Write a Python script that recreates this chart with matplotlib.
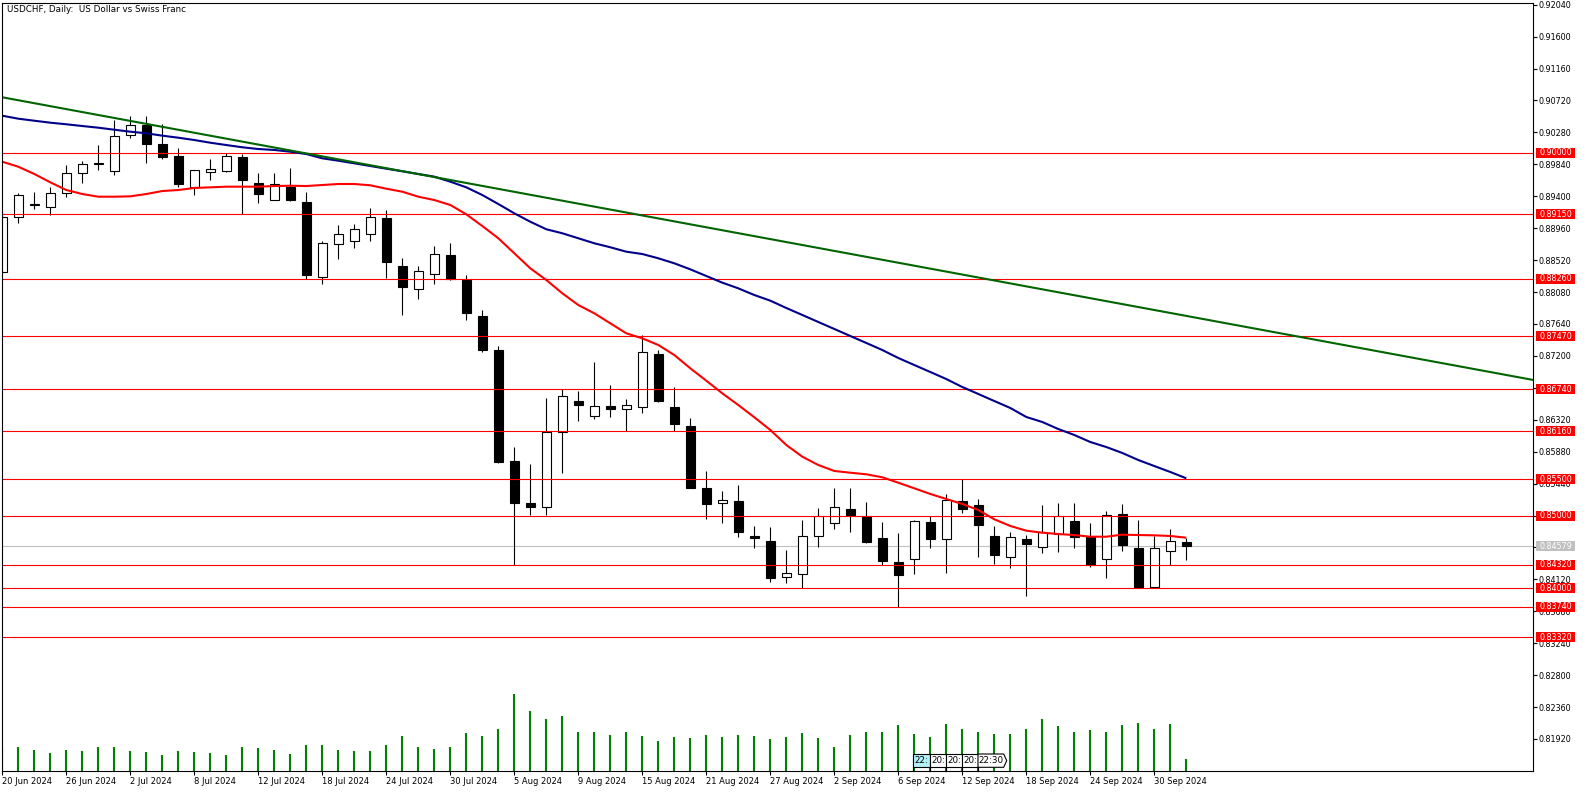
import numpy as np
import pandas as pd
import matplotlib
matplotlib.use("Agg")
from matplotlib import pyplot as plt
from matplotlib.patches import Rectangle, Polygon
from matplotlib.lines import Line2D
from matplotlib.ticker import FormatStrFormatter

W, H = 1586, 792
FS = 6
plt.rcParams['font.family'] = 'DejaVu Sans'

title = "USDCHF, Daily:  US Dollar vs Swiss Franc"
first_day = "2024-06-20"

opens = [
    0.88360, 0.89110, 0.89278, 0.89248, 0.89441, 0.89716, 0.89849, 0.89752, 0.90240, 0.90378,
    0.90120, 0.89955, 0.89532, 0.89738, 0.89744, 0.89945, 0.89583, 0.89353, 0.89532, 0.89321,
    0.88291, 0.88738, 0.88783, 0.88876, 0.89096, 0.88439, 0.88118, 0.88324, 0.88590, 0.88246,
    0.87750, 0.87281, 0.85751, 0.85168, 0.85121, 0.86147, 0.86574, 0.86367, 0.86509, 0.86464,
    0.86491, 0.87226, 0.86500, 0.86234, 0.85375, 0.85168, 0.85204, 0.84718, 0.84649, 0.84149,
    0.84190, 0.84714, 0.84893, 0.85090, 0.84993, 0.84690, 0.84359, 0.84397, 0.84911, 0.84672,
    0.85200, 0.85145, 0.84718, 0.84424, 0.84676, 0.84570, 0.84749, 0.84924, 0.84708, 0.84397,
    0.85017, 0.84552, 0.84019, 0.84507, 0.84631]
highs = [
    0.89183, 0.89441, 0.89455, 0.89523, 0.89831, 0.89886, 0.90106, 0.90451, 0.90506, 0.90506,
    0.90396, 0.90069, 0.89762, 0.89913, 0.89992, 0.89982, 0.89716, 0.89716, 0.89785, 0.89455,
    0.88788, 0.89004, 0.89018, 0.89234, 0.89211, 0.88545, 0.88439, 0.88714, 0.88752, 0.88315,
    0.87832, 0.87336, 0.85940, 0.85710, 0.86620, 0.86739, 0.86716, 0.87116, 0.86799, 0.86606,
    0.87484, 0.87281, 0.86771, 0.86340, 0.85614, 0.85342, 0.85420, 0.84855, 0.84846, 0.84525,
    0.84938, 0.85103, 0.85379, 0.85379, 0.85186, 0.84911, 0.84759, 0.84938, 0.84993, 0.85296,
    0.85510, 0.85228, 0.84855, 0.84769, 0.84731, 0.85145, 0.85173, 0.85173, 0.84897, 0.85062,
    0.85159, 0.84938, 0.84718, 0.84814, 0.84686]
lows = [
    0.88356, 0.89027, 0.89220, 0.89138, 0.89394, 0.89579, 0.89762, 0.89693, 0.90199, 0.89854,
    0.89918, 0.89532, 0.89421, 0.89624, 0.89740, 0.89155, 0.89311, 0.89348, 0.89335, 0.88260,
    0.88191, 0.88535, 0.88691, 0.88783, 0.88269, 0.87764, 0.87984, 0.88191, 0.88246, 0.87695,
    0.87258, 0.85728, 0.84318, 0.85007, 0.85007, 0.85590, 0.86307, 0.86334, 0.86362, 0.86161,
    0.86417, 0.86569, 0.86161, 0.85378, 0.84948, 0.84893, 0.84700, 0.84548, 0.84088, 0.84074,
    0.84005, 0.84570, 0.84818, 0.84777, 0.84625, 0.84318, 0.83735, 0.84194, 0.84556, 0.84212,
    0.85039, 0.84432, 0.84336, 0.84281, 0.83895, 0.84488, 0.84501, 0.84556, 0.84295, 0.84143,
    0.84515, 0.84005, 0.84005, 0.84318, 0.84387]
closes = [
    0.89118, 0.89413, 0.89290, 0.89441, 0.89716, 0.89840, 0.89858, 0.90230, 0.90378, 0.90116,
    0.89945, 0.89565, 0.89758, 0.89772, 0.89955, 0.89624, 0.89435, 0.89565, 0.89348, 0.88315,
    0.88752, 0.88876, 0.88945, 0.89118, 0.88498, 0.88153, 0.88366, 0.88600, 0.88260, 0.87787,
    0.87281, 0.85742, 0.85168, 0.85121, 0.86155, 0.86647, 0.86527, 0.86509, 0.86472, 0.86519,
    0.87254, 0.86582, 0.86265, 0.85383, 0.85163, 0.85214, 0.84769, 0.84694, 0.84143, 0.84204,
    0.84714, 0.84989, 0.85113, 0.85011, 0.84639, 0.84377, 0.84184, 0.84924, 0.84680, 0.85214,
    0.85094, 0.84873, 0.84460, 0.84700, 0.84612, 0.84769, 0.84989, 0.84708, 0.84314, 0.85011,
    0.84598, 0.84019, 0.84548, 0.84645, 0.84579]
volumes = [
    66, 72, 63, 54, 63, 60, 72, 72, 60, 57,
    48, 60, 57, 54, 48, 72, 69, 63, 51, 78,
    78, 63, 60, 60, 78, 105, 72, 66, 72, 114,
    105, 126, 231, 180, 156, 165, 117, 117, 108, 117,
    105, 90, 102, 99, 108, 102, 108, 105, 96, 102,
    114, 99, 72, 108, 117, 117, 138, 111, 102, 141,
    126, 117, 111, 111, 126, 156, 135, 117, 123, 117,
    138, 144, 126, 141, 36]
ma_fast = [
    0.89876, 0.89807, 0.89707, 0.89592, 0.89486, 0.89431, 0.89394, 0.89394, 0.89399, 0.89431,
    0.89472, 0.89486, 0.89514, 0.89523, 0.89532, 0.89532, 0.89532, 0.89541, 0.89545, 0.89541,
    0.89555, 0.89569, 0.89569, 0.89551, 0.89504, 0.89463, 0.89394, 0.89348, 0.89280, 0.89151,
    0.88990, 0.88821, 0.88614, 0.88407, 0.88246, 0.88063, 0.87901, 0.87787, 0.87649, 0.87511,
    0.87442, 0.87350, 0.87212, 0.87029, 0.86858, 0.86684, 0.86523, 0.86354, 0.86179, 0.85972,
    0.85811, 0.85696, 0.85614, 0.85590, 0.85568, 0.85527, 0.85452, 0.85375, 0.85297, 0.85228,
    0.85159, 0.85076, 0.84948, 0.84856, 0.84791, 0.84763, 0.84745, 0.84731, 0.84708, 0.84708,
    0.84736, 0.84731, 0.84727, 0.84718, 0.84694]
ma_slow = [
    0.90510, 0.90469, 0.90441, 0.90414, 0.90392, 0.90368, 0.90345, 0.90317, 0.90290, 0.90268,
    0.90235, 0.90207, 0.90175, 0.90138, 0.90106, 0.90075, 0.90051, 0.90038, 0.90014, 0.89982,
    0.89923, 0.89890, 0.89854, 0.89817, 0.89780, 0.89744, 0.89707, 0.89670, 0.89601, 0.89523,
    0.89417, 0.89293, 0.89165, 0.89049, 0.88945, 0.88890, 0.88821, 0.88752, 0.88697, 0.88636,
    0.88604, 0.88545, 0.88476, 0.88393, 0.88301, 0.88209, 0.88131, 0.88039, 0.87961, 0.87860,
    0.87764, 0.87667, 0.87571, 0.87474, 0.87378, 0.87281, 0.87171, 0.87074, 0.86978, 0.86881,
    0.86771, 0.86675, 0.86578, 0.86482, 0.86358, 0.86289, 0.86192, 0.86110, 0.86013, 0.85944,
    0.85862, 0.85765, 0.85682, 0.85600, 0.85513]
trend_dates = ["2024-06-20", "2024-10-02"]
trend_prices = [0.90764, 0.87751]
levels = [0.90000, 0.89150, 0.88260, 0.87470, 0.86740, 0.86160,
          0.85500, 0.85000, 0.84320, 0.84000, 0.83740, 0.83320]
bid = 0.84579
time_tabs = ["22:", "20:", "20:", "20:", "22:30"]

dates = pd.bdate_range(first_day, periods=len(closes))
idx = np.arange(len(closes))
o, h, l, c = map(np.array, (opens, highs, lows, closes))

fig = plt.figure(figsize=(W / 100, H / 100), dpi=100)
fig.patch.set_facecolor("white")
pos = [2 / W, 21 / H, 1531 / W, 768 / H]
vax = fig.add_axes(pos)
ax = fig.add_axes(pos)
ax.patch.set_visible(False)

xlim = (-0.02, 95.67)
ylim = (0.814789, 0.920635)

# volumes, drawn underneath
vax.vlines(idx, 0, volumes, color="#008000", lw=1.5)
vax.set_xlim(*xlim)
vax.set_ylim(0, max(volumes) * 9.97)
vax.axis("off")

# candles
ax.vlines(idx, l, h, color="black", lw=0.8, zorder=3)
for i in idx:
    bull = c[i] >= o[i]
    ax.add_patch(Rectangle((i - 0.28, min(o[i], c[i])), 0.56, abs(c[i] - o[i]),
                           fc="white" if bull else "black", ec="black", lw=0.8, zorder=4))

# horizontal levels and bid line
for lv in levels:
    ax.axhline(lv, color="#ff0000", lw=0.8, zorder=5)
ax.axhline(bid, color="#c0c0c0", lw=0.8, zorder=2)

# moving averages and trend line
ax.plot(idx, ma_fast, color="#ff0000", lw=1.5, zorder=6, solid_capstyle="butt")
ax.plot(idx, ma_slow, color="#00008b", lw=1.5, zorder=6, solid_capstyle="butt")
t_idx = [dates.get_loc(pd.Timestamp(d)) for d in trend_dates]
ax.axline((t_idx[0], trend_prices[0]), (t_idx[1], trend_prices[1]), color="#006400", lw=1.5, zorder=6)

ax.set_xlim(*xlim)
ax.set_ylim(*ylim)

# axes styling
for sp in ax.spines.values():
    sp.set_linewidth(0.8)
    sp.set_color("black")
    sp.set_zorder(10)

ax.yaxis.tick_right()
ax.set_yticks(np.round(np.arange(0.81920, 0.92041, 0.0044), 5))
ax.yaxis.set_major_formatter(FormatStrFormatter("%.5f"))
ax.tick_params(axis="y", direction="out", length=3, width=0.8, pad=1, labelsize=5.8, colors="black")

xt = idx[::4][:19]
ax.set_xticks(xt)
ax.set_xticklabels([f"{d.day} {d.strftime('%b %Y')}" for d in dates[xt]], ha="left")
ax.tick_params(axis="x", direction="out", length=3, width=0.8, pad=1, labelsize=FS, colors="black")

# price labels on the right scale
px_price = (ylim[1] - ylim[0]) / 768
bw = 39 / 1531
bx = 1534 / 1531
ytr = ax.get_yaxis_transform()
for lv, col in [(v, "#ff0000") for v in levels] + [(bid, "#c0c0c0")]:
    ax.add_patch(Rectangle((bx, lv - 5 * px_price), bw, 10 * px_price, transform=ytr,
                           fc=col, ec="none", clip_on=False, zorder=20))
    ax.text(bx + bw / 2, lv, f"{lv:.5f}", transform=ytr, ha="center", va="center",
            fontsize=5.8, color="white", clip_on=False, zorder=21)

fig.text(7 / W, 1 - 10 / H, title, fontsize=6.3, ha="left", va="center")

# small time tabs near the bottom
def fpx(x, y):
    return (x / W, 1 - y / H)

edges = [913.3, 930, 946, 962, 978, 1006.7]
top, bot = 754, 767.3
for k, lab in enumerate(time_tabs):
    x0, x1 = edges[k], edges[k + 1]
    fc = "#b4f0f8" if k == 0 else "white"
    if k == len(time_tabs) - 1:
        mid = (top + bot) / 2
        pts = [fpx(x0, top), fpx(x1 - 3, top), fpx(x1, mid), fpx(x1 - 3, bot), fpx(x0, bot)]
        fig.add_artist(Polygon(pts, closed=True, transform=fig.transFigure, fc=fc, ec="black", lw=0.8))
    else:
        fig.add_artist(Rectangle(fpx(x0, bot), (x1 - x0) / W, (bot - top) / H, transform=fig.transFigure,
                                 fc=fc, ec="black", lw=0.8))
    fig.add_artist(Line2D([x0 / W, x0 / W], [1 - bot / H, 1 - 771 / H], transform=fig.transFigure,
                          color="black", lw=0.8))
    cx = (x0 + x1) / 2 - (1.5 if k == len(time_tabs) - 1 else 0)
    fig.text(cx / W, 1 - (top + bot) / 2 / H, lab, fontsize=6.3, ha="center", va="center")

fig.savefig("out.png", dpi=100)
